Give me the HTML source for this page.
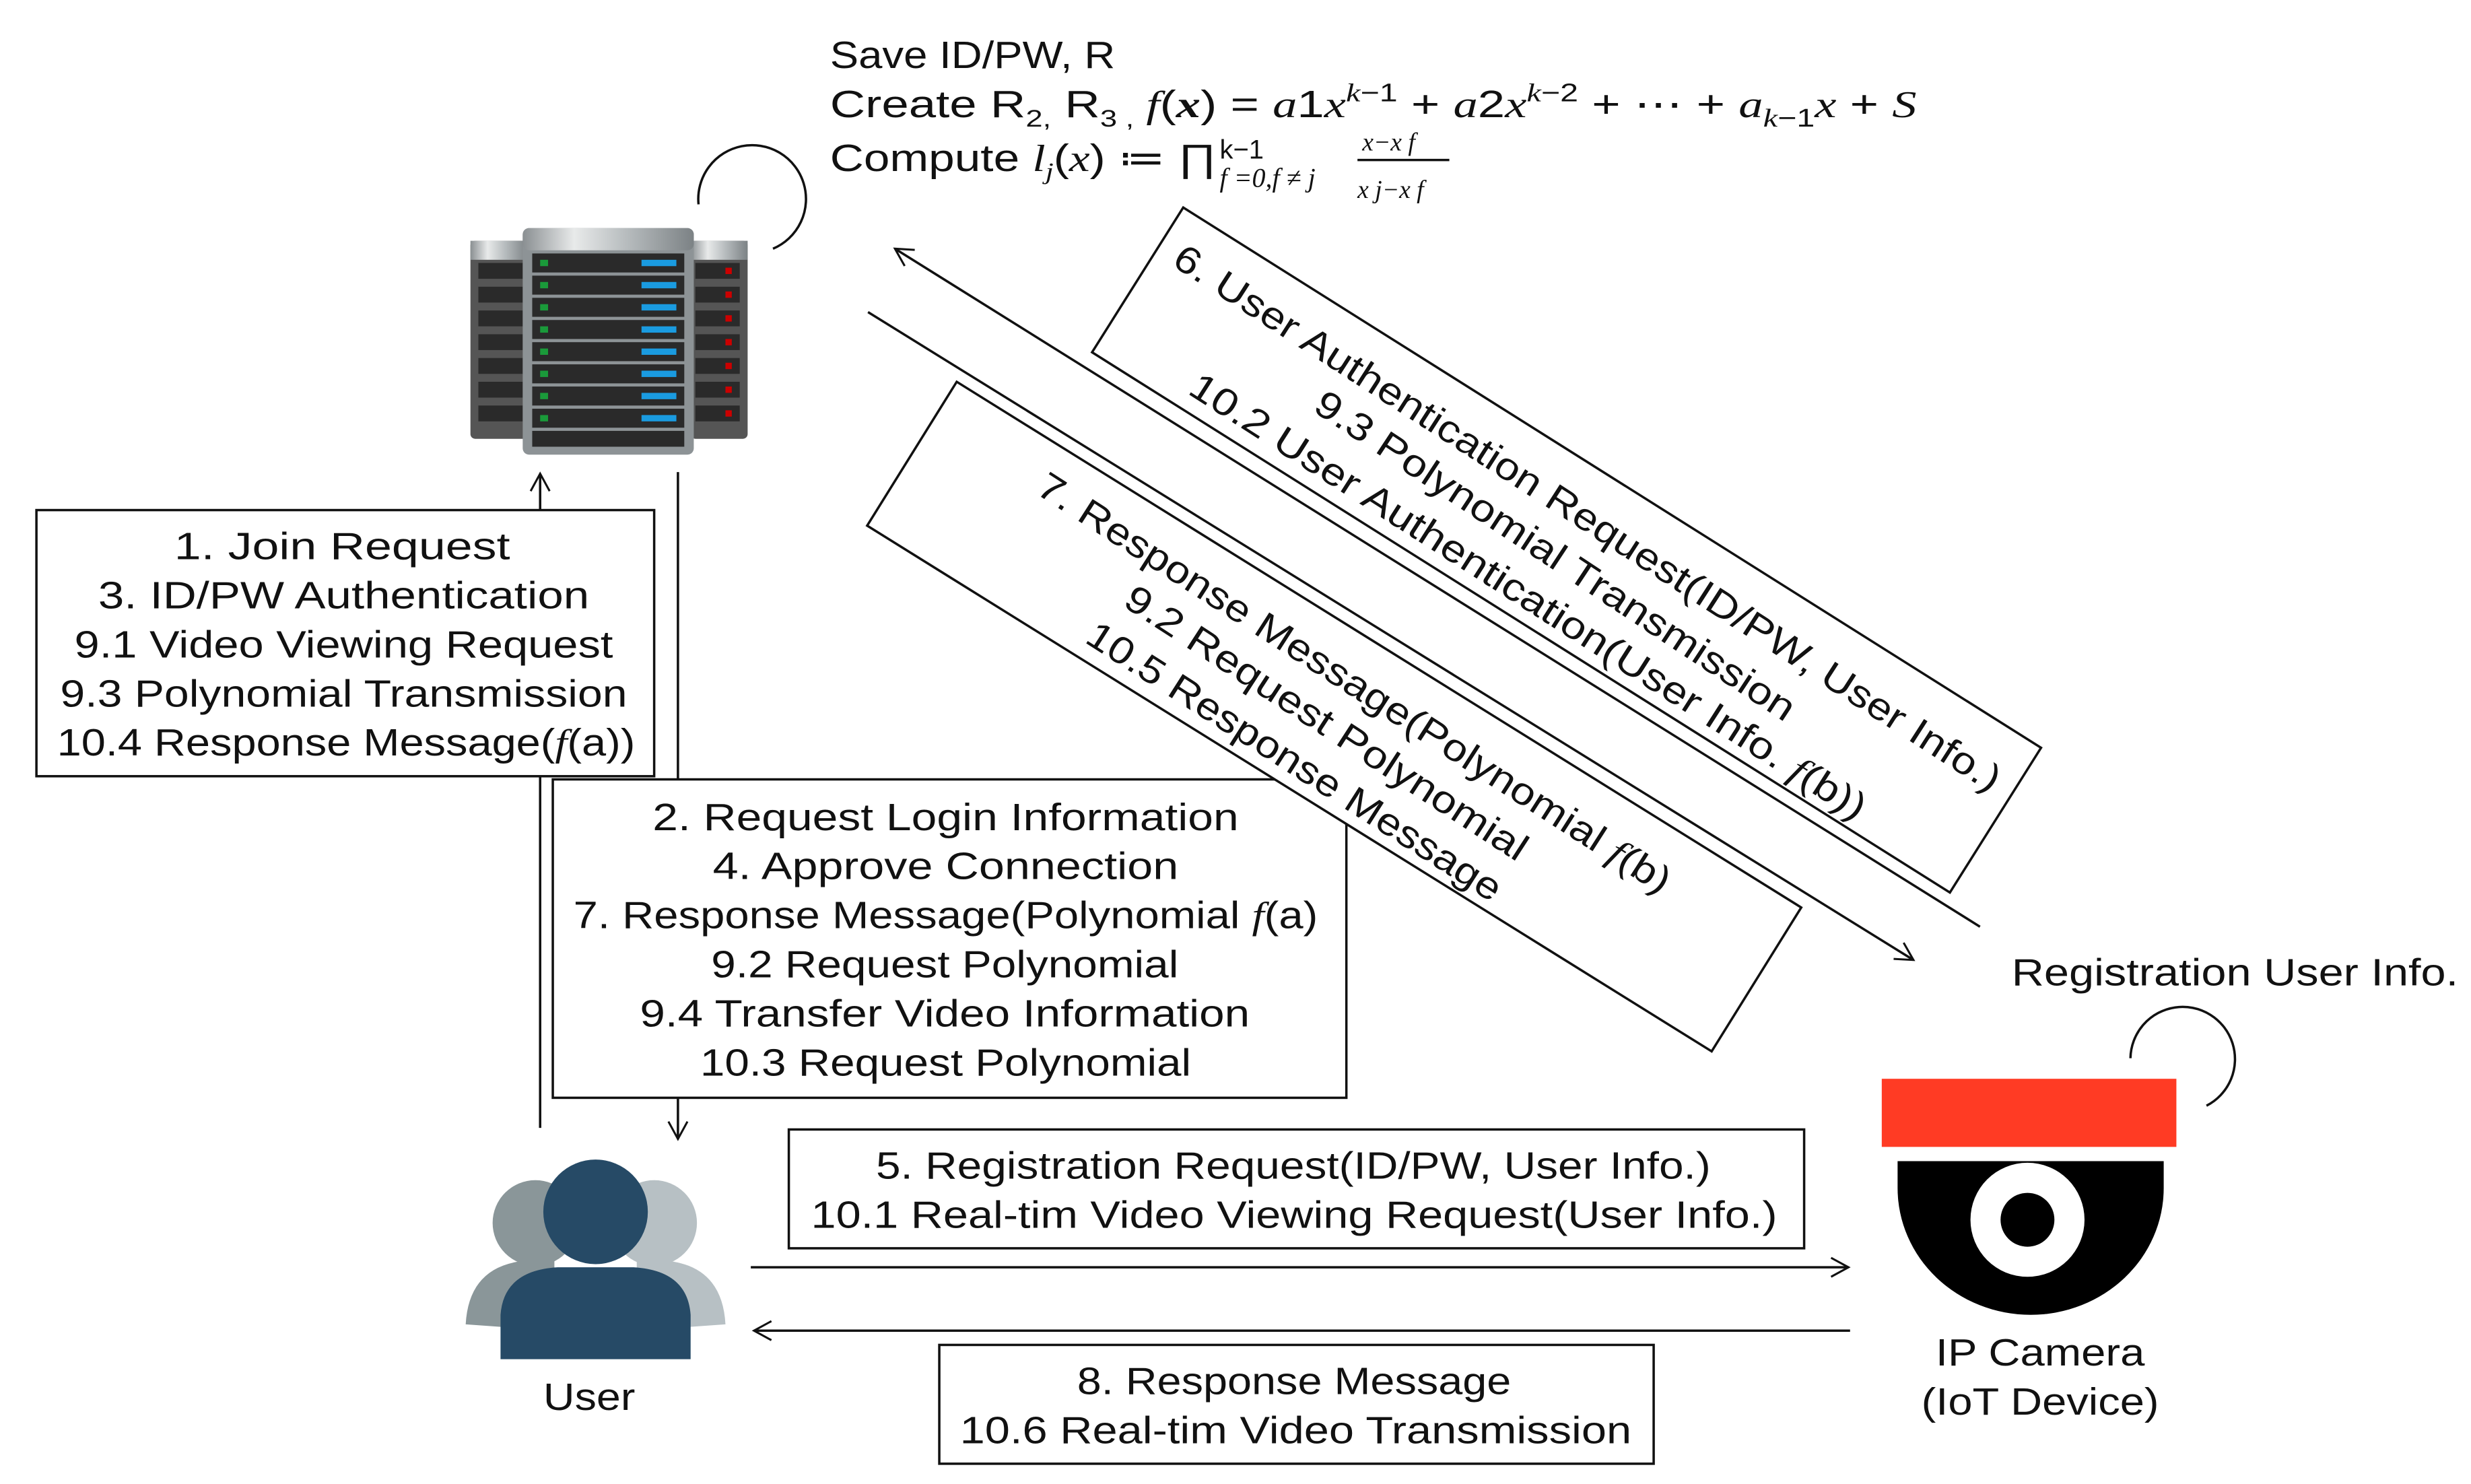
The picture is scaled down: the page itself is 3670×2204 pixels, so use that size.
<!DOCTYPE html>
<html><head><meta charset="utf-8"><style>
html,body{margin:0;padding:0;background:#fff;}
svg{display:block;}
text{font-family:"Liberation Sans","DejaVu Sans",sans-serif;fill:#111;}
.t{font-size:24px;}
.m{font-family:"Liberation Serif",serif;font-style:italic;}
</style></head><body>
<svg width="3670" height="2204" viewBox="0 0 1560 936.8" preserveAspectRatio="none" xmlns="http://www.w3.org/2000/svg">
<defs>
<marker id="ah" markerWidth="14" markerHeight="14" refX="12" refY="7" orient="auto" markerUnits="userSpaceOnUse">
<path d="M1,1 L12,7 L1,13" fill="none" stroke="#111" stroke-width="1.3"/>
</marker>
<linearGradient id="met" x1="0" x2="1">
<stop offset="0" stop-color="#8a8f92"/><stop offset="0.3" stop-color="#e8eaea"/><stop offset="0.6" stop-color="#b8bdbf"/><stop offset="1" stop-color="#7c8285"/>
</linearGradient>
</defs>

<!-- top text -->
<text class="t" x="524" y="43" textLength="180" lengthAdjust="spacingAndGlyphs">Save ID/PW, R</text>
<text class="t" x="524" y="74" font-size="25" textLength="686" lengthAdjust="spacingAndGlyphs">Create R<tspan font-size="15" dy="6">2,</tspan><tspan dy="-6"> R</tspan><tspan font-size="15" dy="6">3 ,</tspan><tspan dy="-6" class="m"> f</tspan>(<tspan class="m" font-weight="bold">x</tspan>) = <tspan class="m">a</tspan>1<tspan class="m">x</tspan><tspan font-size="16" dy="-10" class="m">k</tspan><tspan font-size="16">−1</tspan><tspan dy="10"> + </tspan><tspan class="m">a</tspan>2<tspan class="m">x</tspan><tspan font-size="16" dy="-10" class="m">k</tspan><tspan font-size="16">−2</tspan><tspan dy="10"> + ⋯ + </tspan><tspan class="m">a</tspan><tspan font-size="16" dy="6" class="m">k</tspan><tspan font-size="16">−1</tspan><tspan dy="-6" class="m">x</tspan> + <tspan class="m">S</tspan></text>
<text class="t" x="524" y="108" font-size="25" textLength="244" lengthAdjust="spacingAndGlyphs">Compute <tspan class="m">l</tspan><tspan font-size="15" dy="5" class="m">j</tspan><tspan dy="-5">(</tspan><tspan class="m">x</tspan>) ≔ ∏</text>
<text x="770" y="100" font-size="17">k−1</text>
<text x="770" y="118" font-size="17" class="m">f =0,f ≠ j</text>
<text x="860" y="95" font-size="16" class="m">x−x f</text>
<line x1="857" y1="101" x2="915" y2="101" stroke="#111" stroke-width="1.5"/>
<text x="857" y="125" font-size="16" class="m">x j−x f</text>

<!-- server -->
<g>
<rect x="297" y="152" width="36" height="125" rx="3" fill="#555"/>
<rect x="436" y="152" width="36" height="125" rx="3" fill="#555"/>
<rect x="297" y="152" width="36" height="12" fill="url(#met)"/>
<rect x="436" y="152" width="36" height="12" fill="url(#met)"/>
<g fill="#2a2a2a">
<rect x="302" y="166" width="28" height="10"/><rect x="302" y="181" width="28" height="10"/><rect x="302" y="196" width="28" height="10"/><rect x="302" y="211" width="28" height="10"/><rect x="302" y="226" width="28" height="10"/><rect x="302" y="241" width="28" height="10"/><rect x="302" y="256" width="28" height="10"/>
<rect x="439" y="166" width="28" height="10"/><rect x="439" y="181" width="28" height="10"/><rect x="439" y="196" width="28" height="10"/><rect x="439" y="211" width="28" height="10"/><rect x="439" y="226" width="28" height="10"/><rect x="439" y="241" width="28" height="10"/><rect x="439" y="256" width="28" height="10"/>
</g>
<g fill="#c00">
<rect x="458" y="169" width="4" height="4"/><rect x="458" y="184" width="4" height="4"/><rect x="458" y="199" width="4" height="4"/><rect x="458" y="214" width="4" height="4"/><rect x="458" y="229" width="4" height="4"/><rect x="458" y="244" width="4" height="4"/><rect x="458" y="259" width="4" height="4"/>
</g>
<rect x="330" y="144" width="108" height="143" rx="4" fill="#8d9396"/>
<rect x="330" y="144" width="108" height="14" rx="4" fill="url(#met)"/>
<g fill="#2a2a2a">
<rect x="336" y="160" width="96" height="12"/><rect x="336" y="174" width="96" height="12"/><rect x="336" y="188" width="96" height="12"/><rect x="336" y="202" width="96" height="12"/><rect x="336" y="216" width="96" height="12"/><rect x="336" y="230" width="96" height="12"/><rect x="336" y="244" width="96" height="12"/><rect x="336" y="258" width="96" height="12"/><rect x="336" y="272" width="96" height="10"/>
</g>
<g fill="#1a9be0">
<rect x="405" y="164" width="22" height="4"/><rect x="405" y="178" width="22" height="4"/><rect x="405" y="192" width="22" height="4"/><rect x="405" y="206" width="22" height="4"/><rect x="405" y="220" width="22" height="4"/><rect x="405" y="234" width="22" height="4"/><rect x="405" y="248" width="22" height="4"/><rect x="405" y="262" width="22" height="4"/>
</g>
<g fill="#1a9a3a">
<rect x="341" y="164" width="5" height="4"/><rect x="341" y="178" width="5" height="4"/><rect x="341" y="192" width="5" height="4"/><rect x="341" y="206" width="5" height="4"/><rect x="341" y="220" width="5" height="4"/><rect x="341" y="234" width="5" height="4"/><rect x="341" y="248" width="5" height="4"/><rect x="341" y="262" width="5" height="4"/>
</g>
</g>
<path d="M441,129 A34,34 0 1 1 488,157" fill="none" stroke="#111" stroke-width="1.5"/>

<!-- vertical arrows -->
<line x1="341" y1="712" x2="341" y2="299" stroke="#111" stroke-width="1.5" marker-end="url(#ah)"/>
<line x1="428" y1="298" x2="428" y2="719" stroke="#111" stroke-width="1.5" marker-end="url(#ah)"/>

<!-- box1 -->
<rect x="23" y="322" width="390" height="168" fill="#fff" stroke="#111" stroke-width="1.5"/>
<text class="t" x="110" y="353" textLength="212" lengthAdjust="spacingAndGlyphs">1.    Join Request</text>
<text class="t" x="62" y="384" textLength="310" lengthAdjust="spacingAndGlyphs">3. ID/PW Authentication</text>
<text class="t" x="47" y="415" textLength="340" lengthAdjust="spacingAndGlyphs">9.1 Video Viewing Request</text>
<text class="t" x="38" y="446" textLength="358" lengthAdjust="spacingAndGlyphs">9.3 Polynomial Transmission</text>
<text class="t" x="36" y="477" textLength="365" lengthAdjust="spacingAndGlyphs">10.4 Response Message(<tspan class="m">f</tspan>(a))</text>

<!-- box2 -->
<rect x="349" y="492" width="501" height="201" fill="#fff" stroke="#111" stroke-width="1.5"/>
<text class="t" x="412" y="524" textLength="370" lengthAdjust="spacingAndGlyphs">2. Request Login Information</text>
<text class="t" x="450" y="555" textLength="294" lengthAdjust="spacingAndGlyphs">4. Approve Connection</text>
<text class="t" x="362" y="586" textLength="470" lengthAdjust="spacingAndGlyphs">7. Response Message(Polynomial <tspan class="m">f</tspan>(a)</text>
<text class="t" x="449" y="617" textLength="295" lengthAdjust="spacingAndGlyphs">9.2 Request Polynomial</text>
<text class="t" x="404" y="648" textLength="385" lengthAdjust="spacingAndGlyphs">9.4 Transfer Video Information</text>
<text class="t" x="442" y="679" textLength="310" lengthAdjust="spacingAndGlyphs">10.3 Request Polynomial</text>

<!-- user icon -->
<circle cx="338" cy="772" r="27" fill="#8a9699"/>
<circle cx="413" cy="772" r="27" fill="#b7c0c4"/>
<path d="M294,836 Q296,800 330,796 L350,796 L350,840 Z" fill="#8a9699"/>
<path d="M458,836 Q456,800 422,796 L402,796 L402,840 Z" fill="#b7c0c4"/>
<circle cx="376" cy="765" r="33" fill="#264a66"/>
<path d="M316,858 L316,830 Q318,802 352,800 L400,800 Q434,802 436,830 L436,858 Z" fill="#264a66"/>
<text class="t" x="343" y="890" textLength="58" lengthAdjust="spacingAndGlyphs">User</text>

<!-- box5 -->
<rect x="498" y="713" width="641" height="75" fill="#fff" stroke="#111" stroke-width="1.5"/>
<text class="t" x="553" y="744" textLength="527" lengthAdjust="spacingAndGlyphs">5. Registration Request(ID/PW, User Info.)</text>
<text class="t" x="512" y="775" textLength="610" lengthAdjust="spacingAndGlyphs">10.1 Real-tim Video Viewing Request(User Info.)</text>

<line x1="474" y1="800" x2="1167" y2="800" stroke="#111" stroke-width="1.5" marker-end="url(#ah)"/>
<line x1="1168" y1="840" x2="476" y2="840" stroke="#111" stroke-width="1.5" marker-end="url(#ah)"/>

<!-- box8 -->
<rect x="593" y="849" width="451" height="75" fill="#fff" stroke="#111" stroke-width="1.5"/>
<text class="t" x="680" y="880" textLength="274" lengthAdjust="spacingAndGlyphs">8. Response Message</text>
<text class="t" x="606" y="911" textLength="424" lengthAdjust="spacingAndGlyphs">10.6 Real-tim Video Transmission</text>

<!-- camera -->
<rect x="1188" y="681" width="186" height="43" fill="#ff3b24"/>
<path d="M1198,733 L1366,733 L1366,750 A84,80 0 0 1 1198,750 Z" fill="#000"/>
<circle cx="1280" cy="770" r="36" fill="#fff"/>
<circle cx="1280" cy="770" r="17" fill="#000"/>
<path d="M1345,668 A33,33 0 1 1 1393,698" fill="none" stroke="#111" stroke-width="1.5"/>
<text class="t" x="1270" y="622" textLength="282" lengthAdjust="spacingAndGlyphs">Registration User Info.</text>
<text class="t" x="1222" y="862" textLength="132" lengthAdjust="spacingAndGlyphs">IP Camera</text>
<text class="t" x="1213" y="893" textLength="150" lengthAdjust="spacingAndGlyphs">(IoT Device)</text>

<!-- diagonal arrows -->
<line x1="1250" y1="585" x2="565" y2="157" stroke="#111" stroke-width="1.5" marker-end="url(#ah)"/>
<line x1="548" y1="197" x2="1208" y2="606" stroke="#111" stroke-width="1.5" marker-end="url(#ah)"/>

<!-- rotated box A -->
<g transform="translate(747,131) rotate(32.2)">
<rect x="0" y="0" width="640" height="108" fill="#fff" stroke="#111" stroke-width="1.5"/>
</g>
<text class="t" transform="translate(739,167) rotate(32.8)" textLength="616" lengthAdjust="spacingAndGlyphs">6. User Authentication Request(ID/PW, User Info.)</text>
<text class="t" transform="translate(828,259) rotate(33.4)" textLength="358" lengthAdjust="spacingAndGlyphs">9.3 Polynomial Transmission</text>
<text class="t" transform="translate(749,248) rotate(32.6)" textLength="502" lengthAdjust="spacingAndGlyphs">10.2 User Authentication(User Info. <tspan class="m">f</tspan>(b))</text>

<!-- rotated box B -->
<g transform="translate(604,241) rotate(31.9)">
<rect x="0" y="0" width="628" height="107" fill="#fff" stroke="#111" stroke-width="1.5"/>
</g>
<text class="t" transform="translate(653,311) rotate(32.7)" textLength="470" lengthAdjust="spacingAndGlyphs">7. Response Message(Polynomial <tspan class="m">f</tspan>(b)</text>
<text class="t" transform="translate(708,382) rotate(33)" textLength="298" lengthAdjust="spacingAndGlyphs">9.2 Request Polynomial</text>
<text class="t" transform="translate(684,405) rotate(32.6)" textLength="306" lengthAdjust="spacingAndGlyphs">10.5 Response Message</text>
</svg>
</body></html>
